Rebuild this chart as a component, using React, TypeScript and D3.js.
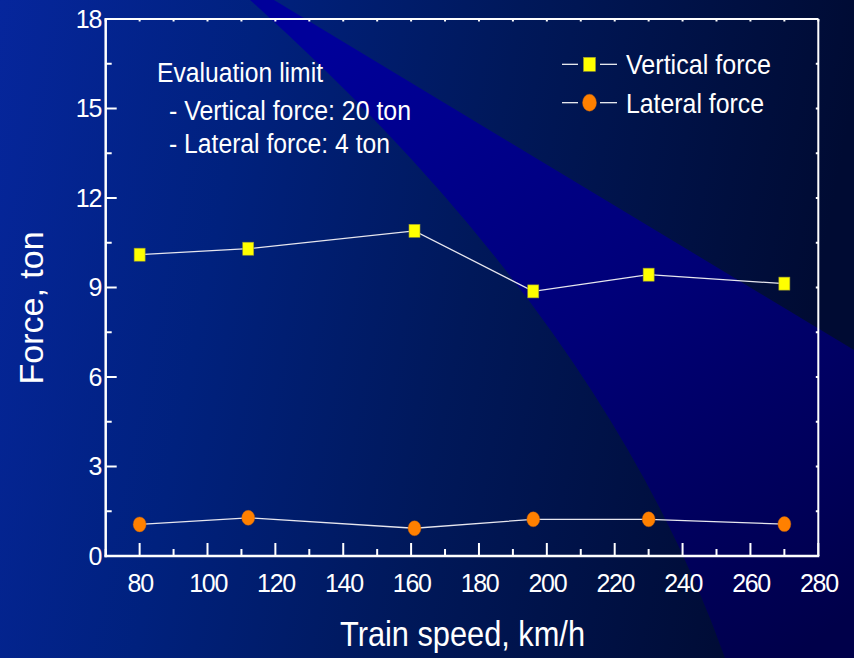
import React from 'react';
import * as d3 from 'd3';

// train speed (km/h) and measured wheel forces (ton)
const speeds = [80, 112, 161, 196, 230, 270];
const verticalForce = [10.1, 10.3, 10.9, 8.87, 9.43, 9.13];
const lateralForce = [1.06, 1.28, 0.93, 1.23, 1.23, 1.07];

const xDomain: [number, number] = [70, 280];
const yDomain: [number, number] = [0, 18];
const xTickValues = [80, 100, 120, 140, 160, 180, 200, 220, 240, 260, 280];
const yTickValues = [0, 3, 6, 9, 12, 15, 18];

const xLabel = 'Train speed, km/h';
const yLabel = 'Force, ton';
const noteLines = ['Evaluation limit', '- Vertical force: 20 ton', '- Lateral force: 4 ton'];
const legendNames = ['Vertical force', 'Lateral force'];

const width = 854;
const height = 658;
const font = '"Liberation Sans", Arial, sans-serif';

export default function App() {
    const left = 105.7;
    const right = 818.3;
    const top = 19;
    const bottom = 556;

    const x = d3.scaleLinear().domain(xDomain).range([left, right]);
    const y = d3.scaleLinear().domain(yDomain).range([bottom, top]);

    const xMinor = d3.range(xDomain[0], xDomain[1] + 1, 10).filter(v => !xTickValues.includes(v));
    const yMinor = d3.range(1.5, 18, 3);
    const xAll = d3.range(xDomain[0], xDomain[1] + 1, 10);
    const yAll = d3.range(0, 18.01, 1.5);

    const line = d3.line<[number, number]>()
        .x(d => x(d[0]))
        .y(d => y(d[1]));

    const vData = speeds.map((s, i) => [s, verticalForce[i]] as [number, number]);
    const lData = speeds.map((s, i) => [s, lateralForce[i]] as [number, number]);

    const noteSizes = [166, 242, 221];
    const noteX = [157, 169, 169];
    const noteY = [81.7, 120, 153.3];

    return (
        <svg width={width} height={height} viewBox={`0 0 ${width} ${height}`}
            style={{ position: 'fixed', left: 0, top: 0, display: 'block' }}
            fontFamily={font}>
            <defs>
                <linearGradient id="bg" x1="0" y1="0" x2="1" y2="0.15">
                    <stop offset="0" stopColor="#06269c" />
                    <stop offset="0.3" stopColor="#00217e" />
                    <stop offset="0.6" stopColor="#00185a" />
                    <stop offset="1" stopColor="#000b33" />
                </linearGradient>
                <linearGradient id="beam" x1="0.2" y1="0" x2="0.9" y2="1">
                    <stop offset="0" stopColor="#00009a" />
                    <stop offset="0.5" stopColor="#000078" />
                    <stop offset="1" stopColor="#00004a" />
                </linearGradient>
            </defs>
            <rect x={0} y={0} width={width} height={height} fill="url(#bg)" />
            <path d="M250,0 L274,0 L854,350 L854,658 L725,658 Q604,318 250,0 Z" fill="url(#beam)" />

            {/* frame */}
            <line x1={left} x2={right} y1={top} y2={top} stroke="#ffffff" strokeWidth={2} />
            <line x1={right} x2={right} y1={top} y2={bottom} stroke="#ffffff" strokeWidth={2} />
            <line x1={left} x2={left} y1={top - 1} y2={bottom + 1.2} stroke="#ffffff" strokeWidth={2.5} />
            <line x1={left - 1.2} x2={right + 1} y1={bottom} y2={bottom} stroke="#ffffff" strokeWidth={2.5} />

            {/* bottom ticks */}
            {xTickValues.map(v => (
                <line key={'xt' + v} x1={x(v)} x2={x(v)} y1={bottom} y2={bottom - 13} stroke="#ffffff" strokeWidth={2} />
            ))}
            {xMinor.map(v => (
                <line key={'xm' + v} x1={x(v)} x2={x(v)} y1={bottom} y2={bottom - 7} stroke="#ffffff" strokeWidth={2} />
            ))}
            {xAll.map(v => (
                <line key={'xtop' + v} x1={x(v)} x2={x(v)} y1={top} y2={top + 2.5} stroke="#ffffff" strokeWidth={2} />
            ))}
            {/* left ticks */}
            {yTickValues.map(v => (
                <line key={'yt' + v} x1={left} x2={left + 11} y1={y(v)} y2={y(v)} stroke="#ffffff" strokeWidth={2} />
            ))}
            {yMinor.map(v => (
                <line key={'ym' + v} x1={left} x2={left + 6} y1={y(v)} y2={y(v)} stroke="#ffffff" strokeWidth={2} />
            ))}
            {yAll.map(v => (
                <line key={'yr' + v} x1={right} x2={right - 2.5} y1={y(v)} y2={y(v)} stroke="#ffffff" strokeWidth={2} />
            ))}

            {/* tick labels */}
            {xTickValues.map(v => (
                <text key={'xl' + v} x={x(v) + 0.6} y={592} fill="#ffffff" fontSize={25}
                    textAnchor="middle" letterSpacing={-1.3}>{v}</text>
            ))}
            {yTickValues.map(v => (
                <text key={'yl' + v} x={101} y={y(v) + 8.5} fill="#ffffff" fontSize={25}
                    textAnchor="end" letterSpacing={-1.3}>{v}</text>
            ))}

            {/* axis titles */}
            <text x={340} y={646} fill="#ffffff" fontSize={35} textLength={245}
                lengthAdjust="spacingAndGlyphs">{xLabel}</text>
            <text transform="translate(43,308) rotate(-90)" fill="#ffffff" fontSize={34}
                textAnchor="middle">{yLabel}</text>

            {/* series */}
            <path d={line(vData) ?? ''} fill="none" stroke="#e6e6ee" strokeWidth={1.3} />
            <path d={line(lData) ?? ''} fill="none" stroke="#e6e6ee" strokeWidth={1.3} />
            {vData.map((d, i) => (
                <rect key={'v' + i} x={x(d[0]) - 5.5} y={y(d[1]) - 6.5} width={11} height={13}
                    fill="#ffff00" stroke="#9a9a30" strokeWidth={0.6} />
            ))}
            {lData.map((d, i) => (
                <ellipse key={'l' + i} cx={x(d[0])} cy={y(d[1])} rx={6.5} ry={7.5}
                    fill="#ff8000" stroke="#c06010" strokeWidth={0.4} />
            ))}

            {/* evaluation note */}
            {noteLines.map((t, i) => (
                <text key={'n' + i} x={noteX[i]} y={noteY[i]} fill="#ffffff" fontSize={27}
                    textLength={noteSizes[i]} lengthAdjust="spacingAndGlyphs">{t}</text>
            ))}

            {/* legend */}
            {legendNames.map((name, i) => {
                const cy = i === 0 ? 64.3 : 102.7;
                return (
                    <g key={'lg' + i}>
                        <line x1={562} x2={578} y1={cy} y2={cy} stroke="#ffffff" strokeWidth={1.2} />
                        <line x1={600} x2={617} y1={cy} y2={cy} stroke="#ffffff" strokeWidth={1.2} />
                        {i === 0 ? (
                            <rect x={583.5} y={cy - 7} width={12} height={14} fill="#ffff00" stroke="#9a9a30" strokeWidth={0.6} />
                        ) : (
                            <ellipse cx={589.5} cy={cy} rx={7} ry={8.5} fill="#ff8000" stroke="#c06010" strokeWidth={0.4} />
                        )}
                        <text x={626} y={i === 0 ? 74 : 112.7} fill="#ffffff" fontSize={28}
                            textLength={i === 0 ? 145 : 138} lengthAdjust="spacingAndGlyphs">{name}</text>
                    </g>
                );
            })}
        </svg>
    );
}
